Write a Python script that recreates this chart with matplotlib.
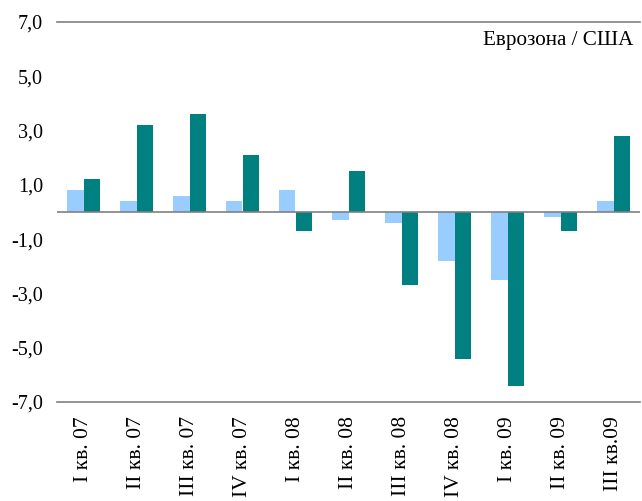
import matplotlib
matplotlib.use("Agg")
import matplotlib.pyplot as plt
import numpy as np

categories = ["I кв. 07", "II кв. 07", "III кв. 07", "IV кв. 07", "I кв. 08", "II кв. 08",
              "III кв. 08", "IV кв. 08", "I кв. 09", "II кв. 09", "III кв.09"]
eurozone = [0.8, 0.4, 0.6, 0.4, 0.8, -0.3, -0.4, -1.8, -2.5, -0.2, 0.4]
usa = [1.2, 3.2, 3.6, 2.1, -0.7, 1.5, -2.7, -5.4, -6.4, -0.7, 2.8]
yticks = [-7, -5, -3, -1, 1, 3, 5, 7]

plt.rcParams['font.family'] = ['Liberation Serif', 'DejaVu Serif']

fig = plt.figure(figsize=(6.42, 5.01), dpi=100)
ax = fig.add_axes([57/642, 1 - 402/501, (640-57)/642, (402-22)/501])

x = np.arange(len(categories))
w = 0.32
ax.bar(x - w/2, eurozone, width=w, color="#99CCFF", zorder=2)
ax.bar(x + w/2, usa, width=w, color="#008080", zorder=2)

ax.set_xlim(-0.5, len(categories) - 0.5)
ax.set_ylim(-7, 7)
ax.set_yticks(yticks)
ax.set_yticklabels([f"{v:.1f}".replace(".", ",") for v in yticks], fontsize=14.5)
ax.set_xticks(x)
ax.set_xticklabels(categories, rotation=90, fontsize=15.5, va="top", ha="center")
ax.tick_params(axis="both", length=0)
ax.tick_params(axis="y", pad=10)
ax.tick_params(axis="x", pad=10)

for s in ["left", "right"]:
    ax.spines[s].set_visible(False)
for s in ["top", "bottom"]:
    ax.spines[s].set_color("#808080")
    ax.spines[s].set_linewidth(1.2)
ax.axhline(0, color="#808080", linewidth=1.2, zorder=3)

ax.text(0.988, 0.975, "Еврозона / США", transform=ax.transAxes, ha="right", va="top", fontsize=15.2)

fig.savefig("out.png", dpi=100)
